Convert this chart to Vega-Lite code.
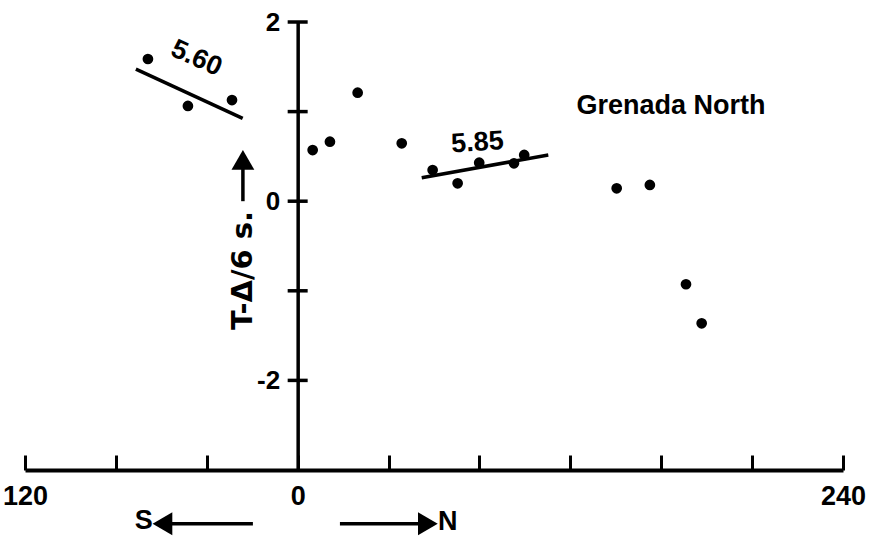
{
  "$schema": "https://vega.github.io/schema/vega-lite/v6.json",
  "width": 818,
  "height": 448,
  "autosize": {"type": "none"},
  "padding": {"left": 25, "top": 22, "right": 34, "bottom": 66},
  "background": "white",
  "config": {"view": {"stroke": null}, "axis": {"grid": false}},
  "datasets": {
    "points": [
      {"x": -65.9, "y": 1.587}, {"x": -48.3, "y": 1.063}, {"x": -28.9, "y": 1.129},
      {"x": 6.6, "y": 0.571}, {"x": 14.2, "y": 0.664}, {"x": 26.4, "y": 1.211},
      {"x": 45.8, "y": 0.646}, {"x": 59.4, "y": 0.348}, {"x": 70.4, "y": 0.2},
      {"x": 79.9, "y": 0.43}, {"x": 95.2, "y": 0.423}, {"x": 99.7, "y": 0.516},
      {"x": 140.4, "y": 0.144}, {"x": 155.0, "y": 0.181}, {"x": 170.9, "y": -0.927},
      {"x": 177.8, "y": -1.363}
    ],
    "fits": [
      {"seg": "5.60", "x": -71.2, "y": 1.475}, {"seg": "5.60", "x": -24.2, "y": 0.925},
      {"seg": "5.85", "x": 54.6, "y": 0.262}, {"seg": "5.85", "x": 110.3, "y": 0.516}
    ],
    "yticks": [
      {"x": 0, "y": 2}, {"x": 0, "y": 1}, {"x": 0, "y": 0}, {"x": 0, "y": -1}, {"x": 0, "y": -2}
    ],
    "labels": [
      {"label": "5.60", "x": -44.5, "y": 1.595},
      {"label": "5.85", "x": 79.1, "y": 0.652},
      {"label": "Grenada North", "x": 164.3, "y": 1.062},
      {"label": "T-Δ/6 s.", "x": -24.1, "y": -0.773},
      {"label": "S", "x": -67.7, "y": -3.57},
      {"label": "N", "x": 66.1, "y": -3.585}
    ],
    "arrows": [
      {"dir": "up", "x": -24.1, "y": 0.0, "x2": -24.1, "y2": 0.40},
      {"dir": "left", "x": -19.7, "y": -3.6, "x2": -56.0, "y2": -3.6},
      {"dir": "right", "x": 18.6, "y": -3.6, "x2": 53.9, "y2": -3.6}
    ],
    "heads": [
      {"dir": "up", "x": -24.1, "y": 0.46},
      {"dir": "left", "x": -59.5, "y": -3.6},
      {"dir": "right", "x": 57.3, "y": -3.6}
    ]
  },
  "encoding": {
    "x": {
      "field": "x", "type": "quantitative",
      "scale": {"domain": [-120, 240], "nice": false, "zero": false},
      "axis": {
        "title": null,
        "values": [-120, -80, -40, 0, 40, 80, 120, 160, 200, 240],
        "labelExpr": "datum.value == -120 ? '120' : (datum.value == 0 ? '0' : (datum.value == 240 ? '240' : ''))",
        "tickSize": -15, "tickWidth": 3, "tickColor": "black",
        "domainWidth": 4, "domainColor": "black",
        "labelPadding": 28, "labelBaseline": "top",
        "labelFont": "Liberation Sans, sans-serif",
        "labelFontSize": 27, "labelFontWeight": "bold", "labelColor": "black",
        "labelFlush": false, "labelOverlap": false
      }
    },
    "y": {
      "field": "y", "type": "quantitative",
      "scale": {"domain": [-3, 2], "nice": false, "zero": false},
      "axis": {
        "title": null,
        "values": [2, 0, -2],
        "labelExpr": "datum.value < 0 ? '-' + abs(datum.value) : '' + datum.value",
        "ticks": false,
        "offset": -272.667,
        "domainWidth": 3.5, "domainColor": "black",
        "labelPadding": 18,
        "labelFont": "Liberation Sans, sans-serif",
        "labelFontSize": 26, "labelFontWeight": "bold", "labelColor": "black",
        "labelFlush": false, "labelOverlap": false
      }
    }
  },
  "layer": [
    {
      "data": {"name": "yticks"},
      "mark": {"type": "tick", "orient": "horizontal", "size": 20, "thickness": 3.5, "color": "black", "opacity": 1}
    },
    {
      "data": {"name": "fits"},
      "mark": {"type": "line", "strokeWidth": 3.5, "color": "black"},
      "encoding": {"detail": {"field": "seg"}}
    },
    {
      "data": {"name": "points"},
      "mark": {"type": "circle", "size": 115, "color": "black", "opacity": 1}
    },
    {
      "data": {"name": "arrows"},
      "mark": {"type": "rule", "strokeWidth": 3.5, "color": "black"},
      "encoding": {"x2": {"field": "x2"}, "y2": {"field": "y2"}}
    },
    {
      "data": {"name": "heads"},
      "mark": {"type": "point", "filled": true, "size": 520, "color": "black", "opacity": 1},
      "encoding": {
        "shape": {"field": "dir", "type": "nominal", "scale": {"domain": ["up", "left", "right"], "range": ["triangle-up", "triangle-left", "triangle-right"]}, "legend": null}
      }
    },
    {
      "data": {"name": "labels"},
      "transform": [{"filter": "datum.label == '5.60'"}],
      "mark": {"type": "text", "angle": 24, "align": "center", "baseline": "middle", "font": "Liberation Sans, sans-serif", "fontWeight": "bold", "fontSize": 27, "color": "black"},
      "encoding": {"text": {"field": "label"}}
    },
    {
      "data": {"name": "labels"},
      "transform": [{"filter": "datum.label == '5.85'"}],
      "mark": {"type": "text", "angle": -4, "align": "center", "baseline": "middle", "font": "Liberation Sans, sans-serif", "fontWeight": "bold", "fontSize": 27, "color": "black"},
      "encoding": {"text": {"field": "label"}}
    },
    {
      "data": {"name": "labels"},
      "transform": [{"filter": "datum.label == 'Grenada North'"}],
      "mark": {"type": "text", "align": "center", "baseline": "middle", "font": "Liberation Sans, sans-serif", "fontWeight": "bold", "fontSize": 27, "color": "black"},
      "encoding": {"text": {"field": "label"}}
    },
    {
      "data": {"name": "labels"},
      "transform": [{"filter": "datum.label == 'T-Δ/6 s.'"}],
      "mark": {"type": "text", "angle": 270, "align": "center", "baseline": "middle", "font": "DejaVu Sans, sans-serif", "fontWeight": "bold", "fontSize": 29, "color": "black"},
      "encoding": {"text": {"field": "label"}}
    },
    {
      "data": {"name": "labels"},
      "transform": [{"filter": "datum.label == 'S' || datum.label == 'N'"}],
      "mark": {"type": "text", "align": "center", "baseline": "middle", "font": "Liberation Sans, sans-serif", "fontWeight": "bold", "fontSize": 27, "color": "black"},
      "encoding": {"text": {"field": "label"}}
    }
  ]
}
